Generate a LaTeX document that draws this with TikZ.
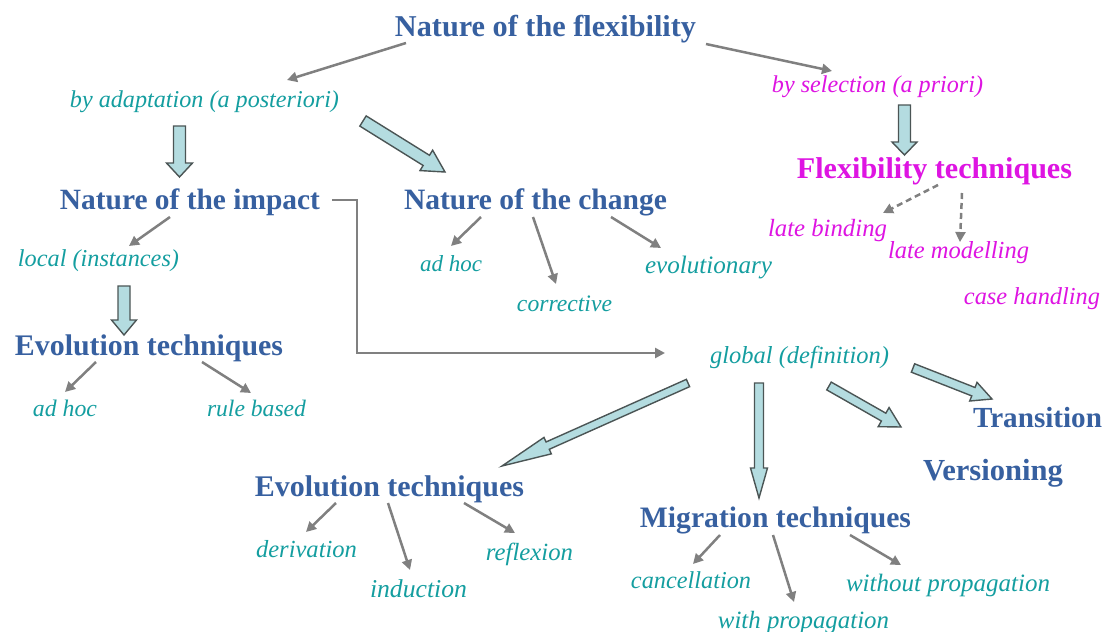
\documentclass[tikz,border=0pt]{standalone}
\usepackage{fontspec}
\setmainfont{Liberation Serif}
\usepackage{graphicx}
\usetikzlibrary{calc,arrows.meta}
\definecolor{hblue}{RGB}{55,96,160}
\definecolor{tealc}{RGB}{20,158,160}
\definecolor{magc}{RGB}{222,20,226}
\definecolor{fatfill}{RGB}{180,220,224}
\definecolor{fatline}{RGB}{75,85,85}
\definecolor{thing}{RGB}{128,128,128}
\newcommand\fitw[2]{\resizebox{#1pt}{!}{#2}}
\newcommand\fatarrow[5]{%
  \coordinate (fahb) at ($(#2)!#5!(#1)$);
  \filldraw[fatarr] ($(#1)!#3!90:(#2)$) -- ($(fahb)!#3!90:(#2)$) -- ($(fahb)!#4!90:(#2)$) -- (#2)
    -- ($(fahb)!#4!-90:(#2)$) -- ($(fahb)!#3!-90:(#2)$) -- ($(#1)!#3!-90:(#2)$) -- cycle;}
\tikzset{
  headb/.style={font=\bfseries, text=hblue, inner sep=0pt, anchor=base, yshift=-2pt},
  headm/.style={font=\bfseries, text=magc, inner sep=0pt, anchor=base, yshift=-2pt},
  subt/.style={font=\itshape, text=tealc, inner sep=0pt, anchor=base},
  subm/.style={font=\itshape, text=magc, inner sep=0pt, anchor=base},
  thinarr/.style={draw=thing, line width=2.5pt, -{Triangle[length=10pt,width=10pt]}},
  dasharr/.style={draw=thing, line width=2.5pt, dash pattern=on 6pt off 4pt, -{Triangle[length=10pt,width=10pt]}},
  elbowarr/.style={draw=thing, line width=2.5pt, -{Triangle[length=10pt,width=10pt]}},
  fatarr/.style={fill=fatfill, draw=fatline, line width=1.4pt, line join=miter}
}
\begin{document}
\begin{tikzpicture}[x=1pt,y=-1pt]
\fill[white] (0,0) rectangle (1104,632);
\path[use as bounding box] (0,0) rectangle (1104,632);
% nodes
\node[headb] (flex) at (545.5,34) {\fitw{301}{Nature of the flexibility}};
\node[subt] (adapt) at (204.5,107) {\fitw{269}{by adaptation (a posteriori)}};
\node[subm] (select) at (877.5,92) {\fitw{211}{by selection (a priori)}};
\node[headm] (flextech) at (934.5,176) {\fitw{275}{Flexibility techniques}};
\node[subm] (lateb) at (827.5,236) {\fitw{119}{late binding}};
\node[subm] (latem) at (958.5,258) {\fitw{141}{late modelling}};
\node[subm] (caseh) at (1032,304) {\fitw{136}{case handling}};
\node[headb] (impact) at (190,207) {\fitw{260}{Nature of the impact}};
\node[headb] (change) at (535.5,207) {\fitw{263}{Nature of the change}};
\node[subt] (local) at (98.5,266) {\fitw{161}{local (instances)}};
\node[subt] (adhocc) at (451,271) {\fitw{62}{ad hoc}};
\node[subt] (corr) at (564.5,311) {\fitw{95}{corrective}};
\node[subt] (evol) at (708.5,273) {\fitw{127}{evolutionary}};
\node[headb] (evoL) at (149,353) {\fitw{268}{Evolution techniques}};
\node[subt] (adhocl) at (65,416) {\fitw{64}{ad hoc}};
\node[subt] (rule) at (256.5,416) {\fitw{99}{rule based}};
\node[subt] (global) at (799.5,363) {\fitw{179}{global (definition)}};
\node[headb] (trans) at (1037.5,425) {\fitw{129}{Transition}};
\node[headb] (vers) at (993,478) {\fitw{140}{Versioning}};
\node[headb] (evoB) at (389.5,494) {\fitw{269}{Evolution techniques}};
\node[headb] (migr) at (775.5,525) {\fitw{271}{Migration techniques}};
\node[subt] (deriv) at (306.5,557) {\fitw{101}{derivation}};
\node[subt] (induct) at (418.5,597) {\fitw{97}{induction}};
\node[subt] (reflex) at (529.5,560) {\fitw{87}{reflexion}};
\node[subt] (cancel) at (691,588) {\fitw{120}{cancellation}};
\node[subt] (withp) at (803.5,628) {\fitw{171}{with propagation}};
\node[subt] (withoutp) at (948,591) {\fitw{204}{without propagation}};
% connector end points
\coordinate (c1a) at (406,43);  \coordinate (c1b) at (287,80);
\coordinate (c2a) at (706,44);  \coordinate (c2b) at (832,71);
\coordinate (c3a) at (170,217); \coordinate (c3b) at (129,246);
\coordinate (c4a) at (481,217); \coordinate (c4b) at (451,246);
\coordinate (c5a) at (533,217); \coordinate (c5b) at (556,284);
\coordinate (c6a) at (611,217); \coordinate (c6b) at (661,248);
\coordinate (c7a) at (96,362);  \coordinate (c7b) at (65,392);
\coordinate (c8a) at (202,362); \coordinate (c8b) at (251,393);
\coordinate (c9a) at (336,503); \coordinate (c9b) at (306,532);
\coordinate (c10a) at (388,503); \coordinate (c10b) at (410,570);
\coordinate (c11a) at (464,503); \coordinate (c11b) at (515,533);
\coordinate (c12a) at (720,535); \coordinate (c12b) at (693,564);
\coordinate (c13a) at (773,535); \coordinate (c13b) at (794,602);
\coordinate (c14a) at (850,535); \coordinate (c14b) at (901,565);
\coordinate (d1a) at (938,185); \coordinate (d1b) at (883,213);
\coordinate (d2a) at (962,193); \coordinate (d2b) at (960,242);
\coordinate (e1a) at (332,200); \coordinate (e1b) at (665,353);
% thin arrows
\foreach \i in {1,...,14} { \draw[thinarr] (c\i a) -- (c\i b); }
\draw[dasharr] (d1a) -- (d1b);
\draw[dasharr] (d2a) -- (d2b);
\draw[elbowarr] (e1a) -- (357,200) |- (e1b);
% fat arrows
\coordinate (f1a) at (179.5,126); \coordinate (f1b) at (179.5,177);
\coordinate (f2a) at (363,121);   \coordinate (f2b) at (445,172);
\coordinate (f3a) at (904.5,105); \coordinate (f3b) at (904.5,155);
\coordinate (f4a) at (124,286);   \coordinate (f4b) at (124,335);
\coordinate (f5a) at (688,383);   \coordinate (f5b) at (502,466);
\coordinate (f6a) at (759,383);   \coordinate (f6b) at (759,498);
\coordinate (f7a) at (829,386);   \coordinate (f7b) at (901,427);
\coordinate (f8a) at (913,368);   \coordinate (f8b) at (992,399);
\fatarrow{f1a}{f1b}{6pt}{13pt}{14pt}
\fatarrow{f2a}{f2b}{6pt}{12pt}{22pt}
\fatarrow{f3a}{f3b}{6pt}{12.5pt}{13pt}
\fatarrow{f4a}{f4b}{6pt}{12.5pt}{15pt}
\fatarrow{f5a}{f5b}{4pt}{9pt}{50pt}
\fatarrow{f6a}{f6b}{4.5pt}{8.5pt}{30pt}
\fatarrow{f7a}{f7b}{4.5pt}{11pt}{20pt}
\fatarrow{f8a}{f8b}{4.5pt}{10pt}{20pt}
\end{tikzpicture}
\end{document}
